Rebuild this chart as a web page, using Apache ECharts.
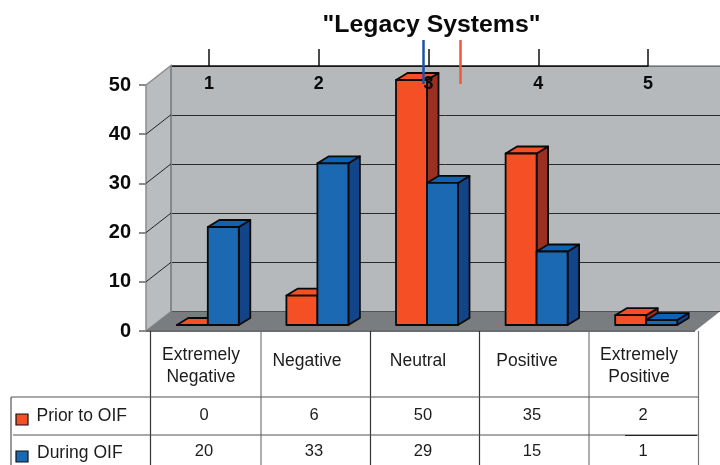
<!DOCTYPE html>
<html><head><meta charset="utf-8">
<style>html,body{margin:0;padding:0;background:#fff}#c{width:720px;height:465px}</style>
<script src="https://cdn.jsdelivr.net/npm/echarts@6/dist/echarts.min.js"></script>
</head><body><div id="c"></div>
<script>
const titleText = '"Legacy Systems"';
const categories = ['Extremely\nNegative','Negative','Neutral','Positive','Extremely\nPositive'];
const topLabels = ['1','2','3','4','5'];
const yTicks = [0,10,20,30,40,50];
const priorName = 'Prior to OIF';
const duringName = 'During OIF';
const prior = [0,6,50,35,2];
const during = [20,33,29,15,1];

const F = '"Liberation Sans", Arial, sans-serif';
const ORANGE = {front:'#f44f25', top:'#f44f25', side:'#9b3020'};
const BLUE = {front:'#1b68b3', top:'#0d62b4', side:'#114488'};
const BAR_W = 31, DX = 11.5, DY = 7, WALL_DX = 25, WALL_DY = 19.5;
const RIGHT_EDGE = 720;

function barSeries(name, values, colors, sign){
  return {
    type:'custom', name, coordinateSystem:'cartesian2d', xAxisIndex:0, yAxisIndex:0, z:3, clip:false, silent:true,
    data: values.map((v,i)=>[i,v]),
    encode:{x:0,y:1},
    renderItem(params, api){
      const top = api.coord([api.value(0), api.value(1)]);
      const base = api.coord([api.value(0), 0]);
      const x0 = sign < 0 ? top[0]-BAR_W : top[0];
      const x1 = x0 + BAR_W, yt = top[1], yb = base[1];
      const st = {stroke:'#0a0a0a', lineWidth:1.8, lineJoin:'round'};
      const poly = (pts, fill) => ({type:'polygon', shape:{points:pts}, style:Object.assign({fill}, st)});
      return {type:'group', children:[
        poly([[x1,yt],[x1+DX,yt-DY],[x1+DX,yb-DY],[x1,yb]], colors.side),
        poly([[x0,yt],[x1,yt],[x1+DX,yt-DY],[x0+DX,yt-DY]], colors.top),
        poly([[x0,yt],[x1,yt],[x1,yb],[x0,yb]], colors.front)
      ]};
    }
  };
}

const wallSeries = {
  type:'custom', name:'walls', coordinateSystem:'cartesian2d', xAxisIndex:1, yAxisIndex:1, z:1, clip:false, silent:true,
  data: yTicks.map(t=>[0,t]),
  encode:{x:0,y:1},
  renderItem(params, api){
    const p = api.coord([0, api.value(1)]);
    const x = 146, y = p[1];
    const kids = [];
    if (params.dataIndex === 0) {
      const top = api.coord([0,50])[1];
      kids.push({type:'polygon', shape:{points:[[x,top],[x+WALL_DX,top-WALL_DY],[x+WALL_DX,y-WALL_DY],[x,y]]},
        style:{fill:'#babdbf', stroke:'#8a8c8e', lineWidth:1.5}});
      kids.push({type:'polygon', shape:{points:[[x,y],[x+WALL_DX,y-WALL_DY],[RIGHT_EDGE,y-WALL_DY],[RIGHT_EDGE-WALL_DX,y]]},
        style:{fill:'#7a7d7f'}});
      kids.push({type:'line', shape:{x1:x,y1:y,x2:RIGHT_EDGE-WALL_DX,y2:y}, style:{stroke:'#6a6c6e',lineWidth:2}});
      kids.push({type:'line', shape:{x1:x+WALL_DX,y1:top-WALL_DY,x2:x+WALL_DX,y2:y-WALL_DY}, style:{stroke:'#85888a',lineWidth:2}});
    } else if (api.value(1) < 50) {
      kids.push({type:'line', shape:{x1:x,y1:y,x2:x+WALL_DX,y2:y-WALL_DY}, style:{stroke:'#222',lineWidth:1}});
    }
    return {type:'group', children:kids};
  }
};

/* data table below the chart */
const colX = [150.5,261,370.5,479.5,589,698.5];
const headX = [201,307,418,527,639];
const numX = [204,314,423,532,643];
const rowY = [331,397,435,465];
const tableG = [];
const tl = (x1,y1,x2,y2,c,w)=>tableG.push({type:'line',z:6,shape:{x1,y1,x2,y2},style:{stroke:c||'#444',lineWidth:w||1}});
const tt = (x,y,text,align,size)=>tableG.push({type:'text',z:6,x,y,style:{text,font:(size||16.5)+'px '+F,fill:'#1c1c1c',align:align||'center',verticalAlign:'middle',lineHeight:22}});
colX.forEach((x,i)=>tl(x,rowY[0],x,rowY[3],i===5||i===4||i===1?'#777':'#333',1.2));
tl(11,rowY[1],colX[5],rowY[1],'#555',1.2);
tl(13,rowY[2],colX[5],rowY[2],'#555',1.2);
tl(625,rowY[2]+0.5,697,rowY[2]+0.5,'#222',1);
tl(11,rowY[1],11,rowY[3],'#555',1.2);
categories.forEach((c,i)=>{
  tt(headX[i],c.includes('\n')?366:361.5,c,'center',17.5);
  tt(numX[i],415,String(prior[i]));
  tt(numX[i],451.5,String(during[i]));
});
tt(36.5,416,priorName,'left',17.5);
tt(37,453,duringName,'left',17.5);
[[414,ORANGE.front],[451,BLUE.front]].forEach(([y,fill])=>tableG.push({type:'rect',z:6,shape:{x:16,y,width:12,height:11},style:{fill,stroke:'#111',lineWidth:1.2}}));

const option = {
  animation:false,
  backgroundColor:'#fff',
  title:{text:titleText,left:426.5,top:8,textAlign:'center',textStyle:{fontFamily:F,fontWeight:'bold',fontSize:24.8,color:'#0a0a0a'}},
  grid:[
    {left:153,width:548,top:80,height:245},
    {left:146,width:549,top:85,height:246},
    {left:171,width:549,top:66,height:245,show:true,backgroundColor:'#b5b9bc',borderWidth:0},
    {left:209,width:439,top:66,height:245}
  ],
  xAxis:[
    {gridIndex:0,type:'category',data:categories,show:false},
    {gridIndex:1,type:'category',data:categories,show:false},
    {gridIndex:2,type:'category',data:categories,show:false},
    {gridIndex:3,type:'category',data:topLabels,boundaryGap:false,position:'top',z:5,
      axisLine:{show:true,onZero:false,lineStyle:{color:'#111',width:1.5}},
      axisTick:{show:true,length:17,alignWithLabel:true,lineStyle:{color:'#111',width:1.5}},
      axisLabel:{inside:true,margin:9,interval:0,fontFamily:F,fontWeight:'bold',fontSize:18,color:'#0a0a0a',verticalAlign:'top'},
      splitLine:{show:false}}
  ],
  yAxis:[
    {gridIndex:0,type:'value',min:0,max:50,interval:10,show:false},
    {gridIndex:1,type:'value',min:0,max:50,interval:10,
      axisLine:{show:false},
      axisTick:{show:true,length:7,lineStyle:{color:'#666',width:1.5}},
      axisLabel:{margin:15,fontFamily:F,fontWeight:'bold',fontSize:20,color:'#0a0a0a'},
      splitLine:{show:false}},
    {gridIndex:2,type:'value',min:0,max:50,interval:10,
      axisLine:{show:false},axisTick:{show:false},axisLabel:{show:false},
      splitLine:{show:true,lineStyle:{color:'#2a2a2a',width:1}}},
    {gridIndex:3,type:'value',min:0,max:50,interval:10,show:false}
  ],
  series:[ wallSeries, barSeries(priorName,prior,ORANGE,-1), barSeries(duringName,during,BLUE,1) ],
  graphic:{elements:[
    {type:'line',z:1,shape:{x1:171,y1:66,x2:209,y2:66},style:{stroke:'#111',lineWidth:1.5}},
    {type:'line',z:4,shape:{x1:648,y1:66,x2:720,y2:66},style:{stroke:'#8a8c8e',lineWidth:1.5}},
    {type:'line',z:20,shape:{x1:423.5,y1:40,x2:423.5,y2:84},style:{stroke:'#1a55a5',lineWidth:2.5}},
    {type:'line',z:20,shape:{x1:460.5,y1:40,x2:460.5,y2:84},style:{stroke:'#f0593a',lineWidth:2.5}}
  ].concat(tableG)}
};
echarts.init(document.getElementById('c'),null,{renderer:'canvas'}).setOption(option);
</script></body></html>
